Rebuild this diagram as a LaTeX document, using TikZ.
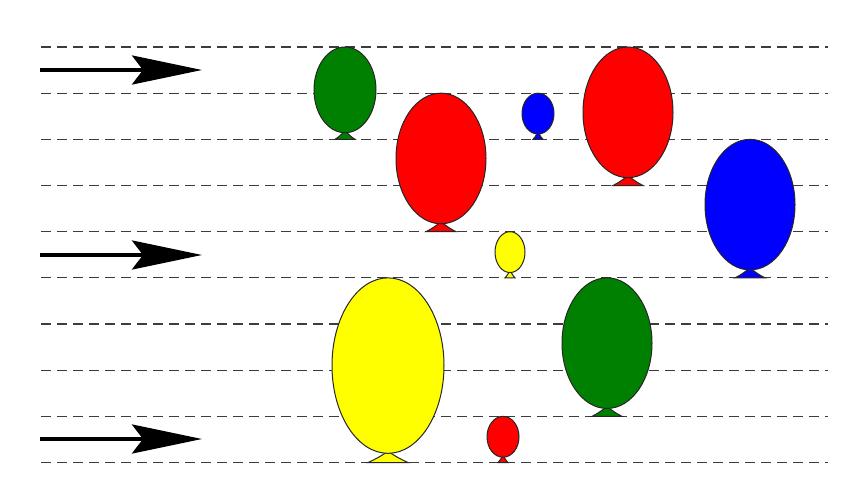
\documentclass[tikz,border=0pt]{standalone}
\usetikzlibrary{arrows.meta}
\definecolor{bgreen}{RGB}{0,128,0}
\definecolor{bred}{RGB}{255,0,0}
\definecolor{bblue}{RGB}{0,0,255}
\definecolor{byellow}{RGB}{255,255,0}
\tikzset{
  guide/.style={draw={rgb,255:red,60;green,60;blue,60}, line width=1.2pt, dash pattern=on 9.5pt off 6.5pt},
  windarrow/.style={line width=4pt, -{Stealth[length=70pt,width=29pt,inset=11pt]}},
  balloonline/.style={draw=black!85, line width=1pt}
}
\newcommand\drawballoon[5]{%
  \pgfmathsetmacro\kh{4+1.3*#3}%
  \pgfmathsetmacro\ry{(#3*46.17-\kh)/2}%
  \pgfmathsetmacro\kw{5*#3}%
  \filldraw[fill=#5, balloonline] (#1-\kw,#2) .. controls (#1-0.6*\kw,#2-0.4*\kh) .. (#1-0.5,#2-\kh-1.5) -- (#1+0.5,#2-\kh-1.5) .. controls (#1+0.6*\kw,#2-0.4*\kh) .. (#1+\kw,#2) -- cycle;
  \filldraw[fill=#5, balloonline] (#1,#2-\kh-\ry) ellipse [x radius=#4, y radius=\ry];
}
\begin{document}
\begin{tikzpicture}[x=1pt,y=-1pt]
\useasboundingbox[fill=white] (0,0) rectangle (868,500);
\foreach \k in {0,...,9} {
  \draw[guide] (41,47+46.17*\k) -- (828,47+46.17*\k);
}
\coordinate (a1s) at (40,70);  \coordinate (a1e) at (202,70);
\coordinate (a2s) at (40,255); \coordinate (a2e) at (202,255);
\coordinate (a3s) at (40,439); \coordinate (a3e) at (202,439);
\draw[windarrow] (a1s) -- (a1e);
\draw[windarrow] (a2s) -- (a2e);
\draw[windarrow] (a3s) -- (a3e);
\drawballoon{345}{139.34}{2}{31}{bgreen}
\drawballoon{441}{231.68}{3}{45}{bred}
\drawballoon{538}{139.34}{1}{16}{bblue}
\drawballoon{628}{185.51}{3}{45}{bred}
\drawballoon{750}{277.85}{3}{45}{bblue}
\drawballoon{510}{277.85}{1}{15}{byellow}
\drawballoon{388}{462.53}{4}{56}{byellow}
\drawballoon{607}{416.36}{3}{45}{bgreen}
\drawballoon{503}{462.53}{1}{16}{bred}
\end{tikzpicture}
\end{document}
